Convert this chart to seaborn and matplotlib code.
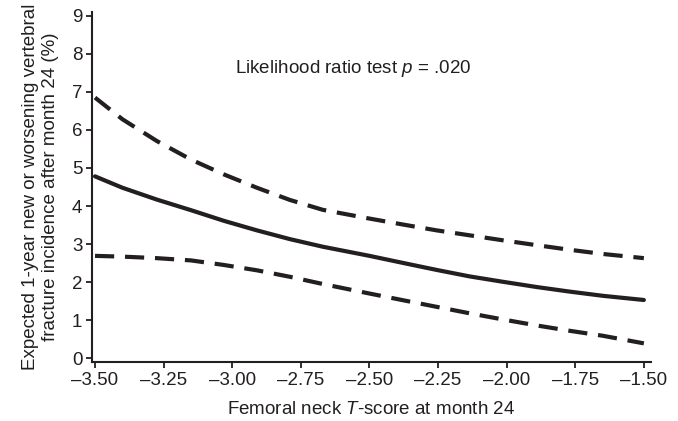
import numpy as np
import pandas as pd
import matplotlib
matplotlib.use('Agg')
import matplotlib.pyplot as plt
import seaborn as sns

# valores
t_score = [-3.50, -3.40, -3.275, -3.15, -3.03, -2.91, -2.79, -2.67, -2.50,
           -2.375, -2.255, -2.135, -2.015, -1.89, -1.77, -1.65, -1.50]
estimativa = [4.78, 4.48, 4.17, 3.89, 3.61, 3.36, 3.13, 2.93, 2.69,
              2.50, 2.32, 2.15, 2.01, 1.87, 1.75, 1.64, 1.53]
ic_superior = [6.85, 6.28, 5.71, 5.22, 4.83, 4.48, 4.16, 3.90, 3.67,
               3.51, 3.36, 3.23, 3.10, 2.97, 2.85, 2.74, 2.63]
ic_inferior = [2.69, 2.67, 2.63, 2.57, 2.45, 2.31, 2.14, 1.95, 1.70,
               1.52, 1.35, 1.18, 1.02, 0.86, 0.72, 0.59, 0.39]

xticks = [-3.50, -3.25, -3.00, -2.75, -2.50, -2.25, -2.00, -1.75, -1.50]
yticks = list(range(0, 10))

df = pd.DataFrame({'t': t_score, 'est': estimativa, 'sup': ic_superior, 'inf': ic_inferior})

sns.set_style('ticks')
plt.rcParams['font.family'] = ['Liberation Sans', 'DejaVu Sans']
plt.rcParams['mathtext.fontset'] = 'custom'
plt.rcParams['mathtext.it'] = 'Liberation Sans:italic'
plt.rcParams['mathtext.rm'] = 'Liberation Sans'
cor = '#231f20'
fs = 13.5

fig = plt.figure(figsize=(6.78, 4.21), dpi=100)
ax = fig.add_axes([92/678, 1 - 362/421, (651 - 92)/678, (362 - 12)/421])

sns.lineplot(data=df, x='t', y='est', color=cor, linewidth=3, ax=ax)
sns.lineplot(data=df, x='t', y='sup', color=cor, linewidth=3, linestyle=(0, (4.6, 2.6)), ax=ax)
sns.lineplot(data=df, x='t', y='inf', color=cor, linewidth=3, linestyle=(0, (4.6, 2.6)), ax=ax)

ax.set_xlim(-3.511, -1.474)
ax.set_ylim(-0.1, 9.1)
ax.set_xticks(xticks)
ax.set_xticklabels(['\u2013%.2f' % abs(v) for v in xticks])
ax.set_yticks(yticks)
ax.set_yticklabels([str(v) for v in yticks])
ax.tick_params(labelsize=fs, colors=cor, length=4, width=1.3, pad=3)

for s in ['top', 'right']:
    ax.spines[s].set_visible(False)
for s in ['left', 'bottom']:
    ax.spines[s].set_linewidth(1.5)
    ax.spines[s].set_color(cor)

ax.set_xlabel('Femoral neck $T$-score at month 24', fontsize=fs, color=cor, labelpad=9)
ax.set_ylabel('Expected 1-year new or worsening vertebral\nfracture incidence after month 24 (%)',
              fontsize=fs, color=cor, labelpad=9, linespacing=1.25)

ax.text(-2.56, 7.62, 'Likelihood ratio test $p$ = .020', fontsize=fs, color=cor,
        ha='center', va='center')

fig.savefig('out.png', dpi=100)
